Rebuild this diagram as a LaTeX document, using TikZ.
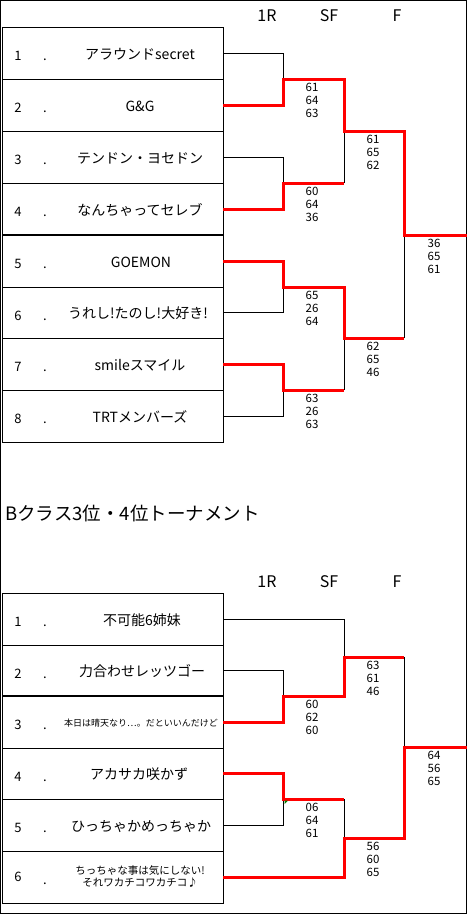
\documentclass[tikz,border=0pt]{standalone}
\usepackage{fontspec}
\setmainfont{Noto Sans CJK JP}
\begin{document}
\begin{tikzpicture}[x=1pt,y=-1pt,
  frame/.style={black, line width=1pt},
  thickrule/.style={black, line width=2pt},
  num/.style={anchor=base, inner sep=0, font=\fontsize{13}{15}\selectfont},
  tname/.style={anchor=base, inner sep=0, font=\fontsize{14}{16}\selectfont},
  sname/.style={anchor=base, inner sep=0, font=\fontsize{9}{11}\selectfont},
  mname/.style={anchor=base, inner sep=0, font=\fontsize{10.5}{13}\selectfont},
  score/.style={anchor=base, inner sep=0, font=\fontsize{11.5}{13}\selectfont},
  hdr/.style={anchor=base, inner sep=0, font=\fontsize{16}{18}\selectfont},
  ttl/.style={anchor=base west, inner sep=0, font=\fontsize{18.5}{20}\selectfont},
  win/.style={red, line width=3pt},
  lose/.style={black, line width=1pt},
]
\useasboundingbox (0,0) rectangle (469,916);
\fill[white] (0,0) rectangle (469,916);
\newcommand\scoreset[6]{%
  \node[score] (#1a) at (#2,#3+12) {#4};
  \node[score] (#1b) at (#2,#3+25) {#5};
  \node[score] (#1c) at (#2,#3+38) {#6};}
\newcommand\teamrow[3]{% name, top y, number
  \node[num] (#1n) at (18,#2+33) {#3};
  \node[num] (#1d) at (45,#2+33) {.};}
% outer frame
\draw[frame] (0.5,0.5) rectangle (466.5,913.5);

% ---------- top section ----------
\node[hdr] (h1) at (267,21) {1R};
\node[hdr] (h2) at (329,21) {SF};
\node[hdr] (h3) at (397,21) {F};
\draw[frame] (2,27) rectangle (223,442);
\foreach \yy in {79,131,183,287,338,390} \draw[frame] (2,\yy) -- (223,\yy);
\draw[thickrule] (2,235) -- (223,235);

\teamrow{a1}{27}{1}
\teamrow{a2}{79}{2}
\teamrow{a3}{131}{3}
\teamrow{a4}{183}{4}
\teamrow{a5}{235}{5}
\teamrow{a6}{287}{6}
\teamrow{a7}{338}{7}
\teamrow{a8}{390}{8}
\node[tname] (A1) at (140,59) {アラウンドsecret};
\node[tname] (A2) at (140,111) {G\&G};
\node[tname] (A3) at (140,163) {テンドン・ヨセドン};
\node[tname] (A4) at (140,215) {なんちゃってセレブ};
\node[tname] (A5) at (141,267) {GOEMON};
\node[tname] (A6) at (138,318) {うれし!たのし!大好き!};
\node[tname] (A7) at (140,370) {smileスマイル};
\node[tname] (A8) at (140,422) {TRTメンバーズ};

% bracket coordinates
\coordinate (a1) at (223,53);
\coordinate (a2) at (223,105);
\coordinate (a3) at (223,157);
\coordinate (a4) at (223,209);
\coordinate (a5) at (223,261);
\coordinate (a6) at (223,312);
\coordinate (a7) at (223,364);
\coordinate (a8) at (223,416);
\coordinate (am1) at (283,79);
\coordinate (am2) at (283,183);
\coordinate (am3) at (283,287);
\coordinate (am4) at (283,390);
\coordinate (as1) at (344,131);
\coordinate (as2) at (344,338);
\coordinate (af) at (404,235);
\coordinate (aend) at (467,235);

% losers
\draw[lose] (a1) -| (am1);
\draw[lose] (a3) -| (am2);
\draw[lose] (a6) -| (am3);
\draw[lose] (a8) -| (am4);
\draw[lose] (344,183) -- (as1);
\draw[lose] (344,390) -- (as2);
\draw[lose] (404,338) -- (af);
% winners
\draw[win] (a2) -| (am1) -- (344,79) |- (404,131) |- (aend);
\draw[win] (a4) -| (am2) -- (344,183);
\draw[win] (a5) -| (am3) -- (344,287) |- (404,338);
\draw[win] (a7) -| (am4) -- (344,390);

\scoreset{sa1}{312}{79}{61}{64}{63}
\scoreset{sa2}{312}{183}{60}{64}{36}
\scoreset{sa3}{312}{287}{65}{26}{64}
\scoreset{sa4}{312}{390}{63}{26}{63}
\scoreset{fa1}{373}{131}{61}{65}{62}
\scoreset{fa2}{373}{338}{62}{65}{46}
\scoreset{ca}{434}{235}{36}{65}{61}

% ---------- bottom section ----------
\node[ttl] (title) at (5,520) {Bクラス3位・4位トーナメント};
\node[hdr] (h4) at (267,587) {1R};
\node[hdr] (h5) at (329,587) {SF};
\node[hdr] (h6) at (397,587) {F};
\draw[frame] (2,593) rectangle (223,903);
\foreach \yy in {645,748,799,851} \draw[frame] (2,\yy) -- (223,\yy);
\draw[thickrule] (2,696) -- (223,696);

\teamrow{b1}{593}{1}
\teamrow{b2}{645}{2}
\teamrow{b3}{696}{3}
\teamrow{b4}{748}{4}
\teamrow{b5}{799}{5}
\node[num] (b6n) at (18,881) {6};
\node[num] (b6d) at (45,884) {.};
\node[tname] (B1) at (142,625) {不可能6姉妹};
\node[tname] (B2) at (142,676) {力合わせレッツゴー};
\node[sname] (B3) at (141,726) {本日は晴天なり…。だといいんだけど};
\node[tname] (B4) at (139,779) {アカサカ咲かず};
\node[tname] (B5) at (141,831) {ひっちゃかめっちゃか};
\node[mname, align=center, anchor=center] (B6) at (140,876) {ちっちゃな事は気にしない!\\[-1pt]それワカチコワカチコ♪};

\coordinate (b1) at (223,619);
\coordinate (b2) at (223,670);
\coordinate (b3) at (223,722);
\coordinate (b4) at (223,773);
\coordinate (b5) at (223,825);
\coordinate (b6) at (223,877);
\coordinate (bm1) at (283,696);
\coordinate (bm2) at (283,799);
\coordinate (bs1) at (344,657);
\coordinate (bs2) at (344,838);
\coordinate (bf) at (404,747);
\coordinate (bend) at (467,747);

% losers
\draw[lose] (b1) -| (bs1);
\draw[lose] (b2) -| (bm1);
\draw[lose] (b5) -| (bm2);
\draw[lose] (344,799) -- (bs2);
\draw[lose] (404,657) -- (bf);
% winners
\draw[win] (b3) -| (bm1) -- (344,696) |- (404,657);
\draw[win] (b4) -| (bm2) -- (344,799);
\draw[win] (b6) -| (bs2) -- (404,838) |- (bend);
\fill[green!50!black] (284.5,800.5) -- (288,800.5) -- (284.5,804) -- cycle;

\scoreset{sb1}{312}{696}{60}{62}{60}
\scoreset{sb2}{312}{799}{06}{64}{61}
\scoreset{fb1}{373}{657}{63}{61}{46}
\scoreset{fb2}{373}{838}{56}{60}{65}
\scoreset{cb}{434}{747}{64}{56}{65}
\end{tikzpicture}
\end{document}
